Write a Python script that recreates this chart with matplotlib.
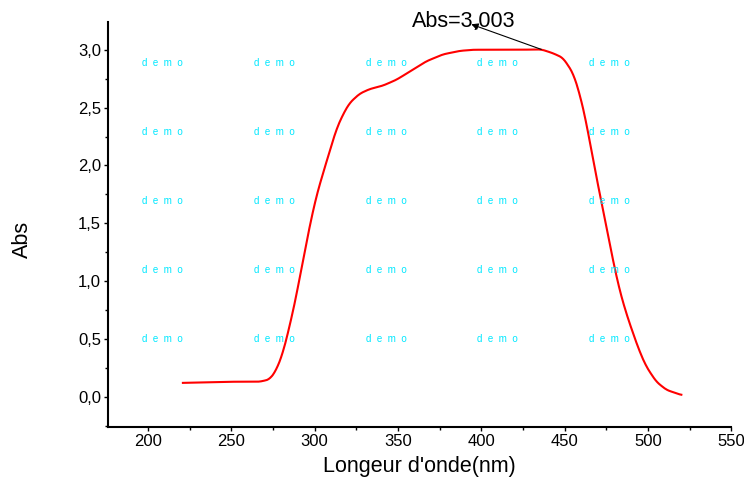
import numpy as np
import matplotlib
matplotlib.use("Agg")
import matplotlib.pyplot as plt
import matplotlib.ticker as ticker

plt.rcParams["font.family"] = ["Liberation Sans", "DejaVu Sans"]

# Absorbance spectrum, wavelength (nm) vs Abs
wavelength = [221, 235, 250, 262, 267, 273, 277, 281, 285, 289, 293, 297, 301,
              305, 309, 313, 317, 321, 327, 333, 341, 349, 357, 367, 377, 387,
              395, 410, 423, 436, 443, 449, 455, 459, 463, 467, 471, 475, 479,
              483, 487, 491, 495, 499, 505, 511, 518, 520]
absorbance = [0.12, 0.125, 0.13, 0.13, 0.13, 0.15, 0.23, 0.38, 0.61, 0.87, 1.18,
              1.47, 1.73, 1.93, 2.12, 2.31, 2.44, 2.54, 2.62, 2.66, 2.69, 2.74,
              2.81, 2.90, 2.96, 2.99, 3.0, 3.0, 3.0, 3.003, 2.97, 2.93, 2.80,
              2.62, 2.37, 2.05, 1.76, 1.47, 1.18, 0.92, 0.72, 0.55, 0.39, 0.26,
              0.13, 0.06, 0.025, 0.015]

peak_x = 436
peak_y = 3.003

x_ticks = [200, 250, 300, 350, 400, 450, 500, 550]
y_ticks = [0.0, 0.5, 1.0, 1.5, 2.0, 2.5, 3.0]

fig = plt.figure(figsize=(7.44, 4.78), dpi=100)
ax = fig.add_axes([0.145, 0.107, 0.838, 0.847])

# light smoothing of the sampled points before drawing
xs = np.linspace(min(wavelength), max(wavelength), 600)
ys = np.interp(xs, wavelength, absorbance)
k = np.ones(9) / 9
ys_s = np.convolve(np.pad(ys, 4, mode="edge"), k, mode="valid")
ax.plot(xs, ys_s, color="red", linewidth=1.5, zorder=3)

ax.set_xlim(176, 550)
ax.set_ylim(-0.26, 3.24)
ax.set_xticks(x_ticks)
ax.set_yticks(y_ticks)
ax.xaxis.set_minor_locator(ticker.MultipleLocator(25))
ax.yaxis.set_minor_locator(ticker.MultipleLocator(0.25))
ax.yaxis.set_major_formatter(ticker.FuncFormatter(lambda v, p: f"{v:.1f}".replace(".", ",")))
ax.tick_params(which="major", direction="out", length=3, width=1, labelsize=12, pad=2)
ax.tick_params(which="minor", direction="out", length=2, width=1)

for s in ["top", "right"]:
    ax.spines[s].set_visible(False)
for s in ["left", "bottom"]:
    ax.spines[s].set_linewidth(1.5)

ax.set_xlabel("Longeur d'onde(nm)", fontsize=15.5, labelpad=5)
ax.set_ylabel("Abs", fontsize=15.5)
ax.yaxis.set_label_coords(-0.12, 0.462)

# watermark grid
wm_x = [162, 274, 386, 497, 609]
wm_y = [63, 132, 201, 270, 339]
for px in wm_x:
    for py in wm_y:
        fig.text(px / 744, 1 - py / 478, "d  e  m  o", color="#00e8ff", fontsize=7,
                 ha="center", va="center")

# peak label, arrow runs from the curve up into the text
ax.text(389.7, 3.24, f"Abs={peak_y:.3f}".replace(".", ","), fontsize=15.5,
        ha="center", va="center", clip_on=False)
ax.annotate("", xy=(394, 3.22), xytext=(peak_x, peak_y),
            arrowprops=dict(arrowstyle="-|>", color="black", lw=0.8,
                            shrinkA=0, shrinkB=0, mutation_scale=10),
            annotation_clip=False)

fig.savefig("out.png", dpi=100, facecolor="white")
